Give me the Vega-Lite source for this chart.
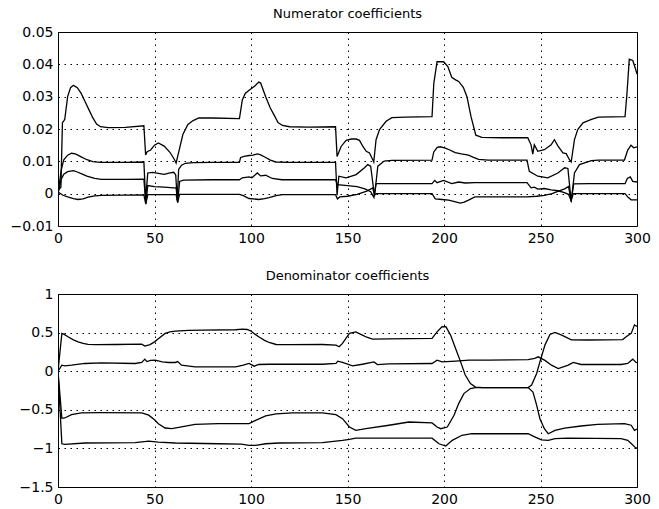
{
"$schema": "https://vega.github.io/schema/vega-lite/v6.json",
"padding": {"left": 9, "top": 7, "right": 5, "bottom": 3},
"spacing": 68,
"bounds": "flush",
"background": "white",
"config": {
  "view": {"stroke": "black", "strokeWidth": 1},
  "axis": {"domain": false, "ticks": false, "grid": true, "gridColor": "black", "gridDash": [1.5, 4.5], "gridOpacity": 1, "gridWidth": 1, "labelFont": "DejaVu Sans", "labelFontSize": 14, "labelColor": "black", "labelPadding": 5, "labelFlush": false, "title": null},
  "title": {"font": "DejaVu Sans", "fontSize": 13, "fontWeight": "normal", "color": "black", "anchor": "middle", "offset": 4}
},
"datasets": {
"num": [
{"s":"a1","x":0,"v":0.001},{"s":"a1","x":1.5,"v":0.002},{"s":"a1","x":2.3,"v":0.022},{"s":"a1","x":3,"v":0.0225},{"s":"a1","x":3.5,"v":0.023},{"s":"a1","x":5,"v":0.03},{"s":"a1","x":6.5,"v":0.0328},{"s":"a1","x":8,"v":0.0335},{"s":"a1","x":10,"v":0.0328},{"s":"a1","x":12,"v":0.031},{"s":"a1","x":14,"v":0.0285},{"s":"a1","x":16,"v":0.026},{"s":"a1","x":18,"v":0.0235},{"s":"a1","x":20,"v":0.0215},{"s":"a1","x":22,"v":0.0207},{"s":"a1","x":26,"v":0.0204},{"s":"a1","x":35,"v":0.0205},{"s":"a1","x":44.5,"v":0.021},{"s":"a1","x":45.4,"v":0.012},{"s":"a1","x":46.2,"v":0.013},{"s":"a1","x":48,"v":0.0135},{"s":"a1","x":50,"v":0.015},{"s":"a1","x":52,"v":0.0157},{"s":"a1","x":55,"v":0.0147},{"s":"a1","x":58,"v":0.0128},{"s":"a1","x":60.4,"v":0.0105},{"s":"a1","x":61.2,"v":0.0095},{"s":"a1","x":63,"v":0.014},{"s":"a1","x":64.7,"v":0.0183},{"s":"a1","x":67.3,"v":0.0214},{"s":"a1","x":70,"v":0.0226},{"s":"a1","x":73,"v":0.0234},{"s":"a1","x":80,"v":0.0234},{"s":"a1","x":94,"v":0.0232},{"s":"a1","x":95.5,"v":0.029},{"s":"a1","x":97,"v":0.031},{"s":"a1","x":99,"v":0.032},{"s":"a1","x":102,"v":0.0333},{"s":"a1","x":104,"v":0.0345},{"s":"a1","x":105,"v":0.0342},{"s":"a1","x":107.6,"v":0.03},{"s":"a1","x":110,"v":0.0265},{"s":"a1","x":112,"v":0.0243},{"s":"a1","x":114,"v":0.022},{"s":"a1","x":116.3,"v":0.0211},{"s":"a1","x":120,"v":0.0207},{"s":"a1","x":130,"v":0.0206},{"s":"a1","x":143.8,"v":0.0207},{"s":"a1","x":144.6,"v":0.0115},{"s":"a1","x":146.7,"v":0.0146},{"s":"a1","x":149.3,"v":0.0165},{"s":"a1","x":152,"v":0.0169},{"s":"a1","x":154.5,"v":0.0169},{"s":"a1","x":156.2,"v":0.0165},{"s":"a1","x":158,"v":0.0146},{"s":"a1","x":159.7,"v":0.0131},{"s":"a1","x":161.4,"v":0.0126},{"s":"a1","x":163.1,"v":0.0105},{"s":"a1","x":163.6,"v":0.0098},{"s":"a1","x":164.8,"v":0.0167},{"s":"a1","x":166.6,"v":0.0198},{"s":"a1","x":170,"v":0.0224},{"s":"a1","x":173,"v":0.0235},{"s":"a1","x":180,"v":0.0237},{"s":"a1","x":193.8,"v":0.0238},{"s":"a1","x":194.7,"v":0.034},{"s":"a1","x":196.4,"v":0.0408},{"s":"a1","x":199.8,"v":0.0408},{"s":"a1","x":202,"v":0.0393},{"s":"a1","x":204,"v":0.036},{"s":"a1","x":206,"v":0.0352},{"s":"a1","x":207.6,"v":0.0347},{"s":"a1","x":210,"v":0.0329},{"s":"a1","x":211.9,"v":0.03},{"s":"a1","x":214,"v":0.0238},{"s":"a1","x":216.5,"v":0.0181},{"s":"a1","x":219.6,"v":0.0174},{"s":"a1","x":230,"v":0.0173},{"s":"a1","x":243.4,"v":0.0173},{"s":"a1","x":245.1,"v":0.0151},{"s":"a1","x":246,"v":0.0122},{"s":"a1","x":246.8,"v":0.0151},{"s":"a1","x":248.6,"v":0.0131},{"s":"a1","x":252,"v":0.0136},{"s":"a1","x":255.5,"v":0.0151},{"s":"a1","x":257.2,"v":0.0167},{"s":"a1","x":259,"v":0.0148},{"s":"a1","x":261.6,"v":0.0126},{"s":"a1","x":263.3,"v":0.0124},{"s":"a1","x":265,"v":0.0105},{"s":"a1","x":265.9,"v":0.0098},{"s":"a1","x":267.6,"v":0.0167},{"s":"a1","x":269.3,"v":0.0198},{"s":"a1","x":272,"v":0.0219},{"s":"a1","x":276.4,"v":0.023},{"s":"a1","x":280,"v":0.0237},{"s":"a1","x":293.8,"v":0.0238},{"s":"a1","x":294.8,"v":0.031},{"s":"a1","x":296,"v":0.0416},{"s":"a1","x":297.8,"v":0.0412},{"s":"a1","x":299,"v":0.039},{"s":"a1","x":300,"v":0.037},
{"s":"a2","x":0,"v":0},{"s":"a2","x":1.7,"v":0.0074},{"s":"a2","x":3,"v":0.0105},{"s":"a2","x":5,"v":0.0119},{"s":"a2","x":7,"v":0.0125},{"s":"a2","x":9,"v":0.0123},{"s":"a2","x":12,"v":0.0114},{"s":"a2","x":15,"v":0.0105},{"s":"a2","x":18,"v":0.0099},{"s":"a2","x":22,"v":0.0097},{"s":"a2","x":35,"v":0.0097},{"s":"a2","x":44.5,"v":0.0098},{"s":"a2","x":45.4,"v":-0.002},{"s":"a2","x":46.5,"v":0.0064},{"s":"a2","x":49,"v":0.0066},{"s":"a2","x":52,"v":0.0063},{"s":"a2","x":55,"v":0.006},{"s":"a2","x":58,"v":0.0064},{"s":"a2","x":60,"v":0.0066},{"s":"a2","x":61,"v":0.0058},{"s":"a2","x":61.8,"v":-0.002},{"s":"a2","x":62.5,"v":0.0075},{"s":"a2","x":64,"v":0.0088},{"s":"a2","x":66,"v":0.0094},{"s":"a2","x":70,"v":0.0096},{"s":"a2","x":80,"v":0.0097},{"s":"a2","x":94,"v":0.0097},{"s":"a2","x":94.6,"v":0.0112},{"s":"a2","x":97,"v":0.0116},{"s":"a2","x":99,"v":0.0118},{"s":"a2","x":101,"v":0.0119},{"s":"a2","x":103.3,"v":0.0123},{"s":"a2","x":105,"v":0.012},{"s":"a2","x":107.6,"v":0.0112},{"s":"a2","x":110,"v":0.0104},{"s":"a2","x":112.8,"v":0.0098},{"s":"a2","x":120,"v":0.0097},{"s":"a2","x":143.8,"v":0.0097},{"s":"a2","x":144.6,"v":-0.0005},{"s":"a2","x":145.5,"v":0.0054},{"s":"a2","x":149.3,"v":0.0049},{"s":"a2","x":154.5,"v":0.0059},{"s":"a2","x":158.8,"v":0.008},{"s":"a2","x":160.5,"v":0.009},{"s":"a2","x":162,"v":0.0085},{"s":"a2","x":164,"v":-0.0008},{"s":"a2","x":165.7,"v":0.0085},{"s":"a2","x":169,"v":0.0101},{"s":"a2","x":173,"v":0.0103},{"s":"a2","x":193.8,"v":0.0104},{"s":"a2","x":194.7,"v":0.0129},{"s":"a2","x":196.5,"v":0.0143},{"s":"a2","x":198,"v":0.0145},{"s":"a2","x":200.7,"v":0.0141},{"s":"a2","x":203,"v":0.0135},{"s":"a2","x":205.8,"v":0.0127},{"s":"a2","x":209,"v":0.0123},{"s":"a2","x":212.7,"v":0.0119},{"s":"a2","x":215,"v":0.0113},{"s":"a2","x":217.9,"v":0.0106},{"s":"a2","x":223,"v":0.0104},{"s":"a2","x":243,"v":0.0104},{"s":"a2","x":244.2,"v":0.0069},{"s":"a2","x":248.6,"v":0.0054},{"s":"a2","x":253.8,"v":0.0049},{"s":"a2","x":259,"v":0.0064},{"s":"a2","x":262.5,"v":0.008},{"s":"a2","x":264.2,"v":0.0078},{"s":"a2","x":265.9,"v":-0.0025},{"s":"a2","x":267.6,"v":0.0064},{"s":"a2","x":270.2,"v":0.009},{"s":"a2","x":276.4,"v":0.0102},{"s":"a2","x":280,"v":0.0104},{"s":"a2","x":293.5,"v":0.0104},{"s":"a2","x":295.2,"v":0.0135},{"s":"a2","x":296.9,"v":0.015},{"s":"a2","x":298.3,"v":0.0142},{"s":"a2","x":300,"v":0.0145},
{"s":"a3","x":0,"v":0},{"s":"a3","x":1.7,"v":0.0045},{"s":"a3","x":3,"v":0.006},{"s":"a3","x":5,"v":0.0068},{"s":"a3","x":8,"v":0.0071},{"s":"a3","x":10,"v":0.0067},{"s":"a3","x":12,"v":0.0062},{"s":"a3","x":15,"v":0.0054},{"s":"a3","x":19,"v":0.0047},{"s":"a3","x":22.6,"v":0.0044},{"s":"a3","x":35,"v":0.0044},{"s":"a3","x":44.5,"v":0.0045},{"s":"a3","x":45.5,"v":-0.003},{"s":"a3","x":46.5,"v":0.0025},{"s":"a3","x":50,"v":0.0022},{"s":"a3","x":55,"v":0.002},{"s":"a3","x":60,"v":0.0018},{"s":"a3","x":61.2,"v":0.0018},{"s":"a3","x":62,"v":-0.0028},{"s":"a3","x":63,"v":0.0038},{"s":"a3","x":65,"v":0.0042},{"s":"a3","x":80,"v":0.0043},{"s":"a3","x":94,"v":0.0043},{"s":"a3","x":95.5,"v":0.0049},{"s":"a3","x":99,"v":0.0052},{"s":"a3","x":100.5,"v":0.0049},{"s":"a3","x":103.3,"v":0.0064},{"s":"a3","x":105,"v":0.0055},{"s":"a3","x":107.6,"v":0.0057},{"s":"a3","x":111,"v":0.0047},{"s":"a3","x":116,"v":0.0043},{"s":"a3","x":143.8,"v":0.0043},{"s":"a3","x":144.8,"v":0.0028},{"s":"a3","x":150,"v":0.0025},{"s":"a3","x":155,"v":0.0022},{"s":"a3","x":159,"v":0.0015},{"s":"a3","x":162,"v":0.0006},{"s":"a3","x":163.7,"v":-0.0012},{"s":"a3","x":164.8,"v":0.0031},{"s":"a3","x":170,"v":0.0031},{"s":"a3","x":193.8,"v":0.0031},{"s":"a3","x":195.2,"v":0.0041},{"s":"a3","x":196.4,"v":0.0034},{"s":"a3","x":199.8,"v":0.0041},{"s":"a3","x":204,"v":0.0031},{"s":"a3","x":207.6,"v":0.0036},{"s":"a3","x":211,"v":0.0033},{"s":"a3","x":216,"v":0.0034},{"s":"a3","x":243,"v":0.0034},{"s":"a3","x":245.1,"v":0.0018},{"s":"a3","x":246.8,"v":0.002},{"s":"a3","x":248.6,"v":0.0014},{"s":"a3","x":252,"v":0.0016},{"s":"a3","x":255.5,"v":0.0012},{"s":"a3","x":259,"v":0.0009},{"s":"a3","x":262,"v":0.0004},{"s":"a3","x":264.5,"v":-0.0002},{"s":"a3","x":265.9,"v":-0.0022},{"s":"a3","x":267.2,"v":0.003},{"s":"a3","x":275,"v":0.0031},{"s":"a3","x":293.8,"v":0.0031},{"s":"a3","x":295,"v":0.0047},{"s":"a3","x":296.5,"v":0.0052},{"s":"a3","x":297.8,"v":0.0038},{"s":"a3","x":300,"v":0.0036},
{"s":"a4","x":0,"v":0.0005},{"s":"a4","x":2.6,"v":-0.0005},{"s":"a4","x":5,"v":-0.001},{"s":"a4","x":8,"v":-0.0015},{"s":"a4","x":10.4,"v":-0.0018},{"s":"a4","x":13,"v":-0.0016},{"s":"a4","x":15.6,"v":-0.0011},{"s":"a4","x":19,"v":-0.0007},{"s":"a4","x":22.6,"v":-0.0005},{"s":"a4","x":44.5,"v":-0.0004},{"s":"a4","x":45.5,"v":-0.0032},{"s":"a4","x":46.5,"v":-0.0003},{"s":"a4","x":55,"v":-0.0003},{"s":"a4","x":61.2,"v":-0.0003},{"s":"a4","x":62,"v":-0.0027},{"s":"a4","x":63,"v":-0.0002},{"s":"a4","x":80,"v":-0.0002},{"s":"a4","x":94,"v":-0.0002},{"s":"a4","x":96,"v":-0.0006},{"s":"a4","x":99,"v":-0.0015},{"s":"a4","x":104,"v":-0.0018},{"s":"a4","x":107,"v":-0.0015},{"s":"a4","x":109.4,"v":-0.0012},{"s":"a4","x":113,"v":-0.0006},{"s":"a4","x":116.3,"v":-0.0003},{"s":"a4","x":143.8,"v":-0.0003},{"s":"a4","x":144.8,"v":-0.0016},{"s":"a4","x":146,"v":-0.001},{"s":"a4","x":150,"v":-0.0008},{"s":"a4","x":155,"v":-0.0002},{"s":"a4","x":160,"v":0.0008},{"s":"a4","x":163,"v":0.0018},{"s":"a4","x":164,"v":-0.0003},{"s":"a4","x":165,"v":0},{"s":"a4","x":193.8,"v":0},{"s":"a4","x":195.5,"v":-0.0016},{"s":"a4","x":199,"v":-0.0018},{"s":"a4","x":202.4,"v":-0.002},{"s":"a4","x":205,"v":-0.0024},{"s":"a4","x":208.4,"v":-0.0029},{"s":"a4","x":210.5,"v":-0.0026},{"s":"a4","x":212.7,"v":-0.002},{"s":"a4","x":216,"v":-0.001},{"s":"a4","x":243,"v":-0.001},{"s":"a4","x":248,"v":-0.0008},{"s":"a4","x":252,"v":-0.0005},{"s":"a4","x":256,"v":0},{"s":"a4","x":259,"v":0.0007},{"s":"a4","x":262.5,"v":0.0015},{"s":"a4","x":264.5,"v":0.0022},{"s":"a4","x":265.9,"v":-0.0019},{"s":"a4","x":267,"v":0},{"s":"a4","x":293.8,"v":0},{"s":"a4","x":295.5,"v":-0.0012},{"s":"a4","x":297,"v":-0.0019},{"s":"a4","x":300,"v":-0.0019}
],
"den": [
{"s":"b1","x":0,"v":0},{"s":"b1","x":2,"v":0.49},{"s":"b1","x":3,"v":0.48},{"s":"b1","x":5.2,"v":0.446},{"s":"b1","x":8,"v":0.405},{"s":"b1","x":10.4,"v":0.38},{"s":"b1","x":13,"v":0.36},{"s":"b1","x":15.6,"v":0.348},{"s":"b1","x":20,"v":0.345},{"s":"b1","x":30,"v":0.346},{"s":"b1","x":43.4,"v":0.35},{"s":"b1","x":45,"v":0.325},{"s":"b1","x":47.7,"v":0.345},{"s":"b1","x":50,"v":0.38},{"s":"b1","x":52,"v":0.42},{"s":"b1","x":55.5,"v":0.49},{"s":"b1","x":58,"v":0.51},{"s":"b1","x":60.8,"v":0.52},{"s":"b1","x":67.7,"v":0.53},{"s":"b1","x":74.7,"v":0.533},{"s":"b1","x":92,"v":0.537},{"s":"b1","x":95.5,"v":0.545},{"s":"b1","x":98,"v":0.54},{"s":"b1","x":100,"v":0.52},{"s":"b1","x":102,"v":0.48},{"s":"b1","x":104,"v":0.446},{"s":"b1","x":107,"v":0.4},{"s":"b1","x":109.4,"v":0.372},{"s":"b1","x":113,"v":0.346},{"s":"b1","x":120,"v":0.345},{"s":"b1","x":137,"v":0.346},{"s":"b1","x":144,"v":0.338},{"s":"b1","x":145.7,"v":0.316},{"s":"b1","x":147.4,"v":0.36},{"s":"b1","x":149,"v":0.42},{"s":"b1","x":151,"v":0.49},{"s":"b1","x":154.3,"v":0.51},{"s":"b1","x":157.7,"v":0.468},{"s":"b1","x":160,"v":0.44},{"s":"b1","x":163,"v":0.416},{"s":"b1","x":171.5,"v":0.418},{"s":"b1","x":193.8,"v":0.424},{"s":"b1","x":196.4,"v":0.51},{"s":"b1","x":199,"v":0.576},{"s":"b1","x":201,"v":0.576},{"s":"b1","x":203.4,"v":0.468},{"s":"b1","x":206,"v":0.294},{"s":"b1","x":208.6,"v":0.121},{"s":"b1","x":211,"v":-0.05},{"s":"b1","x":213.7,"v":-0.16},{"s":"b1","x":216.3,"v":-0.205},{"s":"b1","x":220,"v":-0.212},{"s":"b1","x":243.6,"v":-0.212},{"s":"b1","x":245.4,"v":-0.18},{"s":"b1","x":248,"v":-0.03},{"s":"b1","x":249.7,"v":0.121},{"s":"b1","x":252.3,"v":0.338},{"s":"b1","x":254.9,"v":0.476},{"s":"b1","x":257.5,"v":0.502},{"s":"b1","x":261,"v":0.468},{"s":"b1","x":266,"v":0.405},{"s":"b1","x":274.6,"v":0.404},{"s":"b1","x":292.6,"v":0.41},{"s":"b1","x":294.4,"v":0.446},{"s":"b1","x":297,"v":0.49},{"s":"b1","x":298.7,"v":0.6},{"s":"b1","x":300,"v":0.58},
{"s":"b2","x":0,"v":0},{"s":"b2","x":2,"v":0.078},{"s":"b2","x":3.5,"v":0.07},{"s":"b2","x":7,"v":0.078},{"s":"b2","x":14,"v":0.1},{"s":"b2","x":22.6,"v":0.108},{"s":"b2","x":40,"v":0.1},{"s":"b2","x":43.4,"v":0.113},{"s":"b2","x":45,"v":0.156},{"s":"b2","x":46,"v":0.125},{"s":"b2","x":48,"v":0.14},{"s":"b2","x":50.3,"v":0.143},{"s":"b2","x":54,"v":0.12},{"s":"b2","x":57.3,"v":0.113},{"s":"b2","x":60.8,"v":0.113},{"s":"b2","x":62,"v":0.125},{"s":"b2","x":64,"v":0.078},{"s":"b2","x":71,"v":0.056},{"s":"b2","x":92,"v":0.056},{"s":"b2","x":96,"v":0.08},{"s":"b2","x":99,"v":0.1},{"s":"b2","x":101.6,"v":0.065},{"s":"b2","x":104,"v":0.087},{"s":"b2","x":109.4,"v":0.09},{"s":"b2","x":137,"v":0.09},{"s":"b2","x":144,"v":0.1},{"s":"b2","x":145,"v":0.13},{"s":"b2","x":147.4,"v":0.113},{"s":"b2","x":152.6,"v":0.07},{"s":"b2","x":157.7,"v":0.09},{"s":"b2","x":163.7,"v":0.12},{"s":"b2","x":165.5,"v":0.085},{"s":"b2","x":171.5,"v":0.095},{"s":"b2","x":193.8,"v":0.1},{"s":"b2","x":196.4,"v":0.143},{"s":"b2","x":199,"v":0.12},{"s":"b2","x":206,"v":0.13},{"s":"b2","x":213,"v":0.143},{"s":"b2","x":223,"v":0.143},{"s":"b2","x":243.6,"v":0.15},{"s":"b2","x":247,"v":0.165},{"s":"b2","x":248.8,"v":0.186},{"s":"b2","x":252.3,"v":0.14},{"s":"b2","x":255.7,"v":0.078},{"s":"b2","x":259.2,"v":0.035},{"s":"b2","x":264.4,"v":0.078},{"s":"b2","x":267,"v":0.113},{"s":"b2","x":271,"v":0.087},{"s":"b2","x":291.8,"v":0.087},{"s":"b2","x":295.2,"v":0.1},{"s":"b2","x":297.8,"v":0.156},{"s":"b2","x":299.5,"v":0.113},{"s":"b2","x":300,"v":0.11},
{"s":"b3","x":0,"v":0},{"s":"b3","x":2,"v":-0.61},{"s":"b3","x":3.5,"v":-0.606},{"s":"b3","x":7,"v":-0.563},{"s":"b3","x":12,"v":-0.54},{"s":"b3","x":22.6,"v":-0.537},{"s":"b3","x":43.4,"v":-0.54},{"s":"b3","x":47,"v":-0.57},{"s":"b3","x":50,"v":-0.63},{"s":"b3","x":52,"v":-0.68},{"s":"b3","x":55.5,"v":-0.736},{"s":"b3","x":59,"v":-0.745},{"s":"b3","x":64,"v":-0.72},{"s":"b3","x":71,"v":-0.69},{"s":"b3","x":83,"v":-0.68},{"s":"b3","x":99,"v":-0.68},{"s":"b3","x":102.4,"v":-0.636},{"s":"b3","x":107.6,"v":-0.58},{"s":"b3","x":113,"v":-0.554},{"s":"b3","x":121.5,"v":-0.54},{"s":"b3","x":137,"v":-0.54},{"s":"b3","x":144,"v":-0.563},{"s":"b3","x":147.4,"v":-0.615},{"s":"b3","x":151,"v":-0.723},{"s":"b3","x":154.3,"v":-0.766},{"s":"b3","x":159.5,"v":-0.745},{"s":"b3","x":171.5,"v":-0.7},{"s":"b3","x":181.8,"v":-0.658},{"s":"b3","x":193.8,"v":-0.67},{"s":"b3","x":196.4,"v":-0.723},{"s":"b3","x":198.3,"v":-0.745},{"s":"b3","x":201.7,"v":-0.723},{"s":"b3","x":205.2,"v":-0.57},{"s":"b3","x":207.6,"v":-0.42},{"s":"b3","x":210.3,"v":-0.29},{"s":"b3","x":213.7,"v":-0.225},{"s":"b3","x":216.3,"v":-0.213},{"s":"b3","x":243.6,"v":-0.213},{"s":"b3","x":246.1,"v":-0.27},{"s":"b3","x":248,"v":-0.44},{"s":"b3","x":249.7,"v":-0.615},{"s":"b3","x":252,"v":-0.745},{"s":"b3","x":254,"v":-0.81},{"s":"b3","x":257.5,"v":-0.766},{"s":"b3","x":262.5,"v":-0.736},{"s":"b3","x":271,"v":-0.71},{"s":"b3","x":279.6,"v":-0.69},{"s":"b3","x":293.5,"v":-0.68},{"s":"b3","x":297,"v":-0.7},{"s":"b3","x":298.7,"v":-0.766},{"s":"b3","x":300,"v":-0.75},
{"s":"b4","x":0,"v":0},{"s":"b4","x":2,"v":-0.94},{"s":"b4","x":3.5,"v":-0.948},{"s":"b4","x":14,"v":-0.93},{"s":"b4","x":40,"v":-0.926},{"s":"b4","x":47,"v":-0.905},{"s":"b4","x":52,"v":-0.918},{"s":"b4","x":60.8,"v":-0.93},{"s":"b4","x":83,"v":-0.94},{"s":"b4","x":95,"v":-0.945},{"s":"b4","x":99,"v":-0.96},{"s":"b4","x":102.4,"v":-0.962},{"s":"b4","x":107.6,"v":-0.94},{"s":"b4","x":114.6,"v":-0.93},{"s":"b4","x":137,"v":-0.926},{"s":"b4","x":147.4,"v":-0.896},{"s":"b4","x":151,"v":-0.883},{"s":"b4","x":154.3,"v":-0.866},{"s":"b4","x":193.8,"v":-0.868},{"s":"b4","x":197.4,"v":-0.94},{"s":"b4","x":200.9,"v":-0.97},{"s":"b4","x":204.3,"v":-0.896},{"s":"b4","x":209.3,"v":-0.83},{"s":"b4","x":214.4,"v":-0.81},{"s":"b4","x":243.6,"v":-0.81},{"s":"b4","x":247,"v":-0.85},{"s":"b4","x":250.5,"v":-0.89},{"s":"b4","x":254,"v":-0.896},{"s":"b4","x":257.5,"v":-0.874},{"s":"b4","x":264.4,"v":-0.866},{"s":"b4","x":291.8,"v":-0.874},{"s":"b4","x":295.2,"v":-0.896},{"s":"b4","x":297.8,"v":-0.955},{"s":"b4","x":299.5,"v":-1.0},{"s":"b4","x":300,"v":-0.99}
]
},
"vconcat": [
{
  "title": {"text": "Numerator coefficients"},
  "width": 579, "height": 194,
  "data": {"name": "num"},
  "mark": {"type": "line", "color": "black", "strokeWidth": 1.3, "clip": true},
  "encoding": {
    "x": {"field": "x", "type": "quantitative", "scale": {"domain": [0, 300], "nice": false}, "axis": {"values": [0, 50, 100, 150, 200, 250, 300], "format": "d"}},
    "y": {"field": "v", "type": "quantitative", "scale": {"domain": [-0.01, 0.05], "nice": false, "zero": false}, "axis": {"values": [-0.01, 0, 0.01, 0.02, 0.03, 0.04, 0.05], "format": "~g"}},
    "detail": {"field": "s", "type": "nominal"},
    "order": {"field": "x", "type": "quantitative"}
  }
},
{
  "title": {"text": "Denominator coefficients"},
  "width": 579, "height": 193,
  "data": {"name": "den"},
  "mark": {"type": "line", "color": "black", "strokeWidth": 1.3, "clip": true},
  "encoding": {
    "x": {"field": "x", "type": "quantitative", "scale": {"domain": [0, 300], "nice": false}, "axis": {"values": [0, 50, 100, 150, 200, 250, 300], "format": "d"}},
    "y": {"field": "v", "type": "quantitative", "scale": {"domain": [-1.5, 1], "nice": false, "zero": false}, "axis": {"values": [-1.5, -1, -0.5, 0, 0.5, 1], "format": "~g"}},
    "detail": {"field": "s", "type": "nominal"},
    "order": {"field": "x", "type": "quantitative"}
  }
}
]
}
